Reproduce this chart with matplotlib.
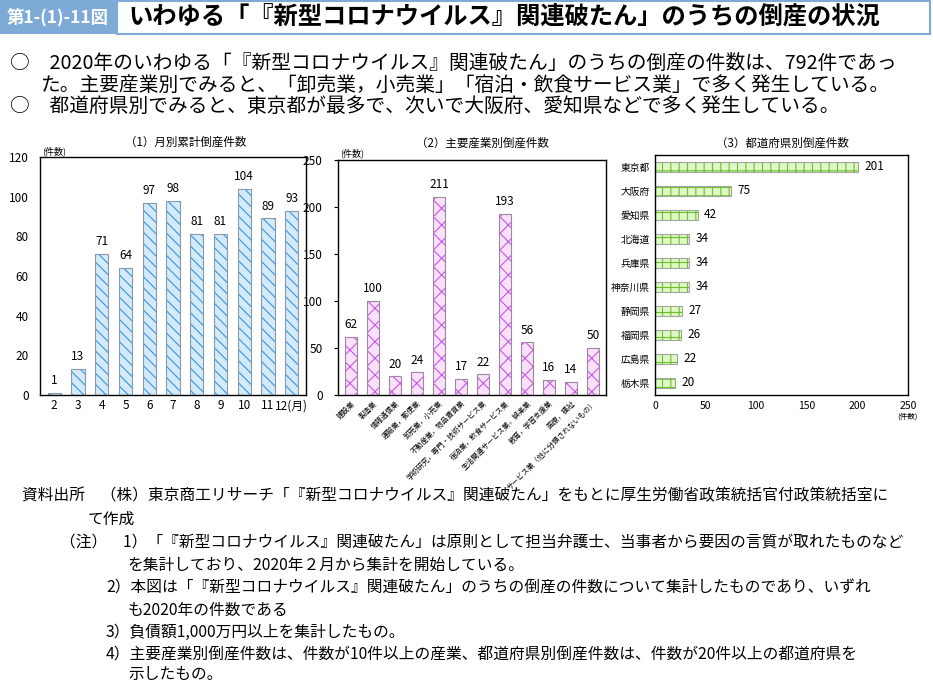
import matplotlib
matplotlib.use('Agg')
import matplotlib.pyplot as plt
from matplotlib.patches import Rectangle

plt.rcParams['font.family'] = ['Noto Sans CJK JP', 'DejaVu Sans']
plt.rcParams['hatch.linewidth'] = 0.8

# (1) monthly
months = ['2', '3', '4', '5', '6', '7', '8', '9', '10', '11', '12(月)']
monthly = [1, 13, 71, 64, 97, 98, 81, 81, 104, 89, 93]

# (2) industry
industries = ['建設業', '製造業', '情報通信業', '運輸業，郵便業', '卸売業，小売業',
              '不動産業，物品賃貸業', '学術研究，専門・技術サービス業',
              '宿泊業，飲食サービス業', '生活関連サービス業，娯楽業',
              '教育，学習支援業', '医療，福祉', 'サービス業（他に分類されないもの）']
industry_counts = [62, 100, 20, 24, 211, 17, 22, 193, 56, 16, 14, 50]

# (3) prefecture
prefs = ['東京都', '大阪府', '愛知県', '北海道', '兵庫県', '神奈川県',
         '静岡県', '福岡県', '広島県', '栃木県']
pref_counts = [201, 75, 42, 34, 34, 34, 27, 26, 22, 20]

W, H = 933, 687
fig = plt.figure(figsize=(W / 100, H / 100), dpi=100)


def ax_at(x0, y0, x1, y1):
    return fig.add_axes([x0 / W, 1 - y1 / H, (x1 - x0) / W, (y1 - y0) / H])


def fig_text(x, y, s, **kw):
    fig.text(x / W, 1 - y / H, s, **kw)


# header
fig.patches.append(Rectangle((0, 1 - 34 / H), 116 / W, 34 / H, transform=fig.transFigure,
                             facecolor='#7eaad8', edgecolor='none'))
fig.patches.append(Rectangle((117 / W, 1 - 34 / H), 813 / W, 33 / H, transform=fig.transFigure,
                             facecolor='white', edgecolor='#7eaad8', linewidth=1.5))
fig_text(58, 17, '第1-(1)-11図', fontsize=12.5, color='white', fontweight='bold',
         ha='center', va='center')
fig_text(128, 17, 'いわゆる「『新型コロナウイルス』関連破たん」のうちの倒産の状況',
         fontsize=17.5, fontweight='bold', va='center')

fig_text(10, 63, '○　2020年のいわゆる「『新型コロナウイルス』関連破たん」のうちの倒産の件数は、792件であっ',
         fontsize=14.2, va='center')
fig_text(40, 85, 'た。主要産業別でみると、「卸売業，小売業」「宿泊・飲食サービス業」で多く発生している。',
         fontsize=14.2, va='center')
fig_text(10, 106, '○　都道府県別でみると、東京都が最多で、次いで大阪府、愛知県などで多く発生している。',
         fontsize=14.2, va='center')

# (1)
ax1 = ax_at(40, 157, 306, 395)
x = range(len(months))
ax1.bar(x, monthly, width=0.55, facecolor='#d3eafa', edgecolor='#3b93dd', hatch='\\\\\\', linewidth=0)
ax1.bar(x, monthly, width=0.55, facecolor='none', edgecolor='#8a9aa8', linewidth=0.8)
for i, v in enumerate(monthly):
    ax1.text(i, v + 3, str(v), ha='center', va='bottom', fontsize=8.5)
ax1.set_ylim(0, 120)
ax1.set_xlim(-0.6, len(months) - 0.4)
ax1.set_yticks(range(0, 121, 20))
ax1.set_xticks(list(x))
ax1.set_xticklabels(months)
ax1.tick_params(labelsize=8.5, length=0, pad=3)
ax1.tick_params(axis='y', pad=8)
fig_text(186, 142, '（1）月別累計倒産件数', fontsize=8.3, ha='center', va='center')
fig_text(42, 151, '(件数)', fontsize=6.5, va='center')

# (2)
ax2 = ax_at(338, 160, 606, 395)
x2 = range(len(industries))
ax2.bar(x2, industry_counts, width=0.55, facecolor='#fbe0fb', edgecolor='#c45ae6', hatch='xx', linewidth=0)
ax2.bar(x2, industry_counts, width=0.55, facecolor='none', edgecolor='#9a8aa0', linewidth=0.8)
for i, v in enumerate(industry_counts):
    ax2.text(i, v + 6, str(v), ha='center', va='bottom', fontsize=8.5)
ax2.set_ylim(0, 250)
ax2.set_xlim(-0.6, len(industries) - 0.4)
ax2.set_yticks(range(0, 251, 50))
ax2.set_xticks(list(x2))
ax2.set_xticklabels(industries, rotation=45, ha='right', rotation_mode='anchor', fontsize=5.2)
ax2.tick_params(axis='x', length=0, pad=3)
ax2.tick_params(axis='y', labelsize=8.5, length=3, pad=8)
fig_text(482, 143, '（2）主要産業別倒産件数', fontsize=8.3, ha='center', va='center')
fig_text(340, 153, '(件数)', fontsize=6.5, va='center')

# (3)
ax3 = ax_at(655, 155, 908, 395)
y3 = range(len(prefs))
ax3.barh(y3, pref_counts, height=0.45, facecolor='#e0f7c8', edgecolor='#6cbf2a', hatch='++', linewidth=0)
ax3.barh(y3, pref_counts, height=0.45, facecolor='none', edgecolor='#a0a8a0', linewidth=0.8)
for i, v in enumerate(pref_counts):
    ax3.text(v + 6, i, str(v), ha='left', va='center', fontsize=8.5)
ax3.set_xlim(0, 250)
ax3.set_ylim(len(prefs) - 0.5, -0.5)
ax3.set_xticks(range(0, 251, 50))
ax3.set_yticks(list(y3))
ax3.set_yticklabels(prefs, fontsize=7)
ax3.tick_params(length=0)
ax3.tick_params(axis='x', labelsize=7.5, pad=4)
fig_text(782, 143, '（3）都道府県別倒産件数', fontsize=8.3, ha='center', va='center')
fig_text(918, 417, '(件数)', fontsize=5.5, ha='right', va='center')

for ax in (ax1, ax2, ax3):
    for s in ax.spines.values():
        s.set_linewidth(1.0)

# footnotes
notes = [
    (22, 496, '資料出所　（株）東京商工リサーチ「『新型コロナウイルス』関連破たん」をもとに厚生労働省政策統括官付政策統括室に'),
    (88, 519, 'て作成'),
    (60, 543, '（注）　1）「『新型コロナウイルス』関連破たん」は原則として担当弁護士、当事者から要因の言質が取れたものなど'),
    (128, 565, 'を集計しており、2020年２月から集計を開始している。'),
    (106, 588, '2）本図は「『新型コロナウイルス』関連破たん」のうちの倒産の件数について集計したものであり、いずれ'),
    (128, 610, 'も2020年の件数である'),
    (106, 632, '3）負債額1,000万円以上を集計したもの。'),
    (106, 654, '4）主要産業別倒産件数は、件数が10件以上の産業、都道府県別倒産件数は、件数が20件以上の都道府県を'),
    (128, 675, '示したもの。'),
]
for nx, ny, s in notes:
    fig_text(nx, ny, s, fontsize=11.3, va='center')

fig.savefig('out.png', dpi=100)
